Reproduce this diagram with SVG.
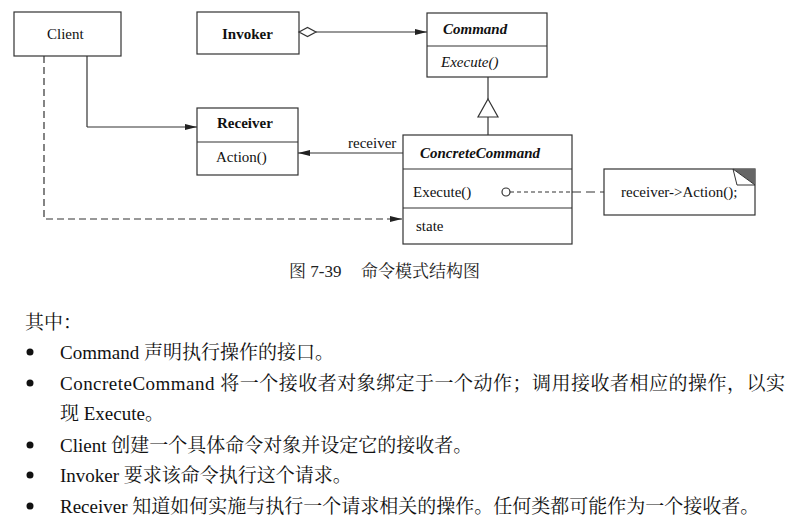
<svg xmlns="http://www.w3.org/2000/svg" width="804" height="520" viewBox="0 0 804 520">
<defs>
<marker id="arr" viewBox="0 0 12 6" refX="12" refY="3" markerWidth="12" markerHeight="6" markerUnits="userSpaceOnUse" orient="auto">
<path d="M0,0 L12,3 L0,6 Z" fill="#222"/>
</marker>
</defs>
<style>
.box{fill:#fff;stroke:#333;stroke-width:1.2}
.ln{fill:none;stroke:#333;stroke-width:1.2}
.t{font-family:"Liberation Serif","Times New Roman","DejaVu Serif",serif;font-size:15px;fill:#111}
.b{font-weight:bold}
.i{font-style:italic}
.body{font-family:"Liberation Serif","Noto Serif CJK SC","Noto Sans CJK SC",serif;font-size:19px;fill:#111}
.cap{font-family:"Liberation Serif","Noto Serif CJK SC","Noto Sans CJK SC",serif;font-size:17px;fill:#222}
</style>
<rect width="804" height="520" fill="#fff"/>

<g id="client">
<rect class="box" x="14" y="12" width="107" height="44"/>
<text class="t" x="47" y="39">Client</text>
</g>

<g id="invoker">
<rect class="box" x="197" y="12" width="102" height="42"/>
<text class="t b" x="222" y="39">Invoker</text>
</g>

<g id="command">
<rect class="box" x="427" y="13" width="120" height="64"/>
<line class="ln" x1="427" y1="46" x2="547" y2="46"/>
<text class="t b i" x="443" y="34">Command</text>
<text class="t i" x="441" y="67">Execute()</text>
</g>

<g id="receiver">
<rect class="box" x="197" y="108" width="101" height="67"/>
<line class="ln" x1="197" y1="142" x2="298" y2="142"/>
<text class="t b" x="217" y="128">Receiver</text>
<text class="t" x="216" y="162">Action()</text>
</g>

<g id="concretecommand">
<rect class="box" x="403" y="135" width="169" height="109"/>
<line class="ln" x1="403" y1="169" x2="572" y2="169"/>
<line class="ln" x1="403" y1="208" x2="572" y2="208"/>
<text class="t b i" x="420" y="158">ConcreteCommand</text>
<text class="t" x="413" y="197">Execute()</text>
<text class="t" x="416" y="231">state</text>
</g>

<g id="note">
<rect class="box" x="604" y="169" width="151" height="46"/>
<path d="M733,169 L755,169 L755,185 Z" fill="#666"/>
<path d="M733,169 L737,185 L755,185 Z" fill="#fff" stroke="#333" stroke-width="1"/>
<text class="t" x="621" y="197">receiver-&gt;Action();</text>
</g>

<g id="connectors">
<line class="ln" x1="87" y1="56" x2="87" y2="127"/>
<line class="ln" x1="87" y1="127" x2="197" y2="127" marker-end="url(#arr)"/>
<polyline class="ln" points="44,56 44,219 402,219" stroke-dasharray="7,4" marker-end="url(#arr)"/>
<path d="M299,32 L307.5,27.5 L316,32 L307.5,36.5 Z" fill="#fff" stroke="#333" stroke-width="1.2"/>
<line class="ln" x1="316" y1="32" x2="427" y2="32" marker-end="url(#arr)"/>
<line class="ln" x1="488" y1="77" x2="488" y2="99"/>
<path d="M488,99 L498,117 L478,117 Z" fill="#fff" stroke="#333" stroke-width="1.2"/>
<line class="ln" x1="488" y1="117" x2="488" y2="135"/>
<line class="ln" x1="403" y1="153" x2="298" y2="153" marker-end="url(#arr)"/>
<text class="t" x="348" y="148">receiver</text>
<circle cx="506" cy="192" r="4" fill="#fff" stroke="#333" stroke-width="1.2"/>
<line class="ln" x1="510" y1="192" x2="572" y2="192" stroke-dasharray="4,3"/>
<line class="ln" x1="572" y1="192" x2="604" y2="192" stroke-dasharray="9,5"/>
</g>

<g id="caption">
<text class="cap" x="289" y="277">图 7-39</text>
<text class="cap" x="361" y="277">命令模式结构图</text>
</g>

<g id="bodytext">
<text class="body" x="25" y="329">其中：</text>
<circle cx="30" cy="352" r="3.5" fill="#111"/>
<text class="body" x="60" y="359">Command 声明执行操作的接口。</text>
<circle cx="30" cy="383" r="3.5" fill="#111"/>
<text class="body" x="60" y="390" textLength="725" lengthAdjust="spacing">ConcreteCommand 将一个接收者对象绑定于一个动作；调用接收者相应的操作，以实</text>
<text class="body" x="60" y="420">现 Execute。</text>
<circle cx="30" cy="445" r="3.5" fill="#111"/>
<text class="body" x="60" y="452">Client 创建一个具体命令对象并设定它的接收者。</text>
<circle cx="30" cy="475" r="3.5" fill="#111"/>
<text class="body" x="60" y="482">Invoker 要求该命令执行这个请求。</text>
<circle cx="30" cy="506" r="3.5" fill="#111"/>
<text class="body" x="60" y="513">Receiver 知道如何实施与执行一个请求相关的操作。任何类都可能作为一个接收者。</text>
</g>
</svg>
